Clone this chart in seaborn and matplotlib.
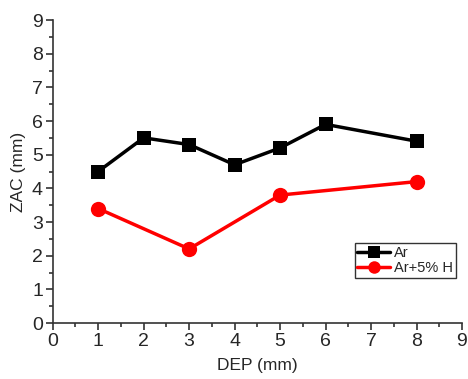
import matplotlib
matplotlib.use("Agg")
import matplotlib.pyplot as plt
import seaborn as sns
import pandas as pd
from matplotlib.ticker import MultipleLocator

ar_dep = [1, 2, 3, 4, 5, 6, 8]
ar_zac = [4.5, 5.5, 5.3, 4.7, 5.2, 5.9, 5.4]
arh_dep = [1, 3, 5, 8]
arh_zac = [3.4, 2.2, 3.8, 4.2]

sns.set_style("ticks")
plt.rcParams["font.family"] = ["Liberation Sans", "DejaVu Sans"]

df = pd.concat([
    pd.DataFrame({"DEP": ar_dep, "ZAC": ar_zac, "gas": "Ar"}),
    pd.DataFrame({"DEP": arh_dep, "ZAC": arh_zac, "gas": "Ar+5% H"}),
])

fig = plt.figure(figsize=(4.68, 3.79), dpi=100)
ax = fig.add_axes([52.7 / 468, 1 - 323 / 379, (462 - 52.7) / 468, (323 - 20) / 379])

sns.lineplot(data=df, x="DEP", y="ZAC", hue="gas", style="gas",
             palette={"Ar": "black", "Ar+5% H": "red"},
             markers={"Ar": "s", "Ar+5% H": "o"}, dashes=False,
             markersize=10, markeredgewidth=0, linewidth=2.5, ax=ax)
# circles read a touch larger than the squares
for line in ax.get_lines():
    if line.get_marker() == "o":
        line.set_markersize(11)

ax.set_xlim(0, 9)
ax.set_ylim(0, 9)
ax.xaxis.set_major_locator(MultipleLocator(1))
ax.yaxis.set_major_locator(MultipleLocator(1))
ax.xaxis.set_minor_locator(MultipleLocator(0.5))
ax.yaxis.set_minor_locator(MultipleLocator(0.5))
for side in ("top", "right"):
    ax.spines[side].set_visible(False)
for side in ("left", "bottom"):
    ax.spines[side].set_color("#333333")
    ax.spines[side].set_linewidth(1.2)
ax.tick_params(which="major", length=5, width=1.2, color="#333333", labelsize=14, pad=2)
ax.tick_params(which="minor", length=3, width=1.2, color="#333333")
ax.set_xlabel("DEP (mm)", fontsize=12.5, labelpad=6)
ax.set_ylabel("ZAC (mm)", fontsize=12.5, labelpad=4)

leg = ax.legend(loc="lower right", bbox_to_anchor=(0.985, 0.148), fontsize=10.5,
                frameon=True, fancybox=False, handlelength=2.2, handletextpad=0.3,
                borderpad=0.2, labelspacing=0.1, borderaxespad=0)
leg.get_frame().set_edgecolor("black")
leg.get_frame().set_linewidth(1.0)
for h in leg.legend_handles:
    h.set_markersize(9)
    h.set_linewidth(2.5)

fig.savefig("out.png", dpi=100)
